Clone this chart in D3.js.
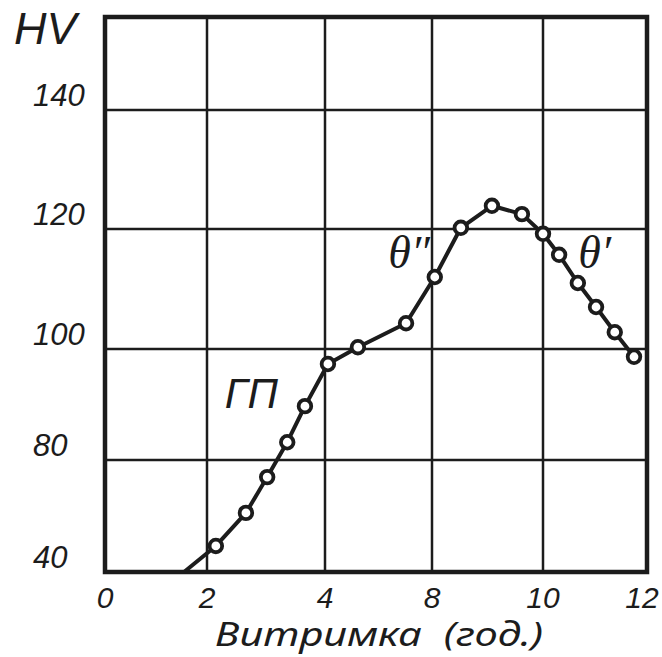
<!DOCTYPE html>
<html>
<head>
<meta charset="utf-8">
<script src="https://d3js.org/d3.v7.min.js"></script>
<style>
  body { margin:0; background:#fff; }
  text { font-family: "Liberation Sans", Arial, sans-serif; font-style: italic; fill:#1c1c1c; }
</style>
</head>
<body>
<script>
var w = 662, h = 657;

// axis ticks as printed in the figure
var xTicks = [0, 2, 4, 8, 10, 12];
var yTicks = [40, 80, 100, 120, 140];
var yTop = 160;

// aging time (x) and hardness HV (y); first point is where the curve leaves the frame
var aging = [1.55, 2.15, 2.66, 3.02, 3.36, 3.66, 4.11, 5.23, 7.03, 8.05, 8.52, 9.08, 9.62, 10.0, 10.31, 10.67, 11.02, 11.38, 11.75];
var hv    = [40, 49.3, 61.1, 73.9, 83.2, 89.7, 97.3, 100.3, 104.3, 112, 120.2, 123.9, 122.5, 119.2, 115.7, 111, 107, 102.8, 98.6];
var markerFrom = 1;

// curve labels
var notes = [
  {text: "ГП", x: 2.3, y: 89.4, serif: false},
  {text: "θ″", x: 6.36, y: 113.5, serif: true},
  {text: "θ′", x: 10.68, y: 113.5, serif: true}
];

var ink = "#1c1c1c";

var svg = d3.select("body").append("svg")
  .attr("width", w)
  .attr("height", h);

// the figure's grid is not evenly spaced, so both scales are piecewise
var x = d3.scaleLinear().domain(xTicks).range([105, 207, 325, 432, 543, 647]);
var y = d3.scaleLinear().domain(yTicks.concat([yTop])).range([572, 460, 349, 229, 110, 17]);

var x0 = x(xTicks[0]), x1 = x(xTicks[xTicks.length - 1]);
var y0 = y(yTicks[0]), y1 = y(yTop);

// grid
svg.append("g").selectAll("line")
  .data(xTicks.slice(1, -1))
  .enter().append("line")
    .attr("x1", function(d){ return x(d); })
    .attr("x2", function(d){ return x(d); })
    .attr("y1", y1).attr("y2", y0)
    .attr("stroke", ink).attr("stroke-width", 2.5);

svg.append("g").selectAll("line")
  .data(yTicks.slice(1))
  .enter().append("line")
    .attr("y1", function(d){ return y(d); })
    .attr("y2", function(d){ return y(d); })
    .attr("x1", x0).attr("x2", x1)
    .attr("stroke", ink).attr("stroke-width", 2.5);

// frame
svg.append("rect")
  .attr("x", x0).attr("y", y1)
  .attr("width", x1 - x0).attr("height", y0 - y1)
  .attr("fill", "none").attr("stroke", ink).attr("stroke-width", 4.5);

// curve
var pts = aging.map(function(d, i){ return [d, hv[i]]; });
var line = d3.line()
  .x(function(d){ return x(d[0]); })
  .y(function(d){ return y(d[1]); });

svg.append("path")
  .datum(pts)
  .attr("d", line)
  .attr("fill", "none")
  .attr("stroke", ink)
  .attr("stroke-width", 4)
  .attr("stroke-linejoin", "round");

svg.append("g").selectAll("circle")
  .data(pts.slice(markerFrom))
  .enter().append("circle")
    .attr("cx", function(d){ return x(d[0]); })
    .attr("cy", function(d){ return y(d[1]); })
    .attr("r", 6.3)
    .attr("fill", "#fff")
    .attr("stroke", ink)
    .attr("stroke-width", 3.8);

// y tick labels
svg.append("g").selectAll("text")
  .data(yTicks)
  .enter().append("text")
    .attr("x", 33)
    .attr("y", function(d){ return y(d) - 4; })
    .attr("font-size", 31)
    .text(function(d){ return d; });

svg.append("text")
  .attr("x", 14).attr("y", 44)
  .attr("font-size", 45)
  .text("HV");

// x tick labels
svg.append("g").selectAll("text")
  .data(xTicks)
  .enter().append("text")
    .attr("x", function(d){ return Math.min(x(d), w - 20); })
    .attr("y", 608)
    .attr("text-anchor", "middle")
    .attr("font-size", 30)
    .text(function(d){ return d; });

svg.append("text")
  .attr("x", 215).attr("y", 646)
  .attr("font-size", 33)
  .attr("textLength", 328)
  .attr("lengthAdjust", "spacingAndGlyphs")
  .style("font-family", "'Noto Sans', sans-serif")
  .text("Витримка\u00a0\u00a0(год.)");

// curve labels
svg.append("g").selectAll("text")
  .data(notes)
  .enter().append("text")
    .attr("x", function(d){ return x(d.x); })
    .attr("y", function(d){ return y(d.y); })
    .attr("font-size", function(d){ return d.serif ? 46 : 42; })
    .style("font-family", function(d){ return d.serif ? "'Liberation Serif', serif" : null; })
    .text(function(d){ return d.text; });
</script>
</body>
</html>
